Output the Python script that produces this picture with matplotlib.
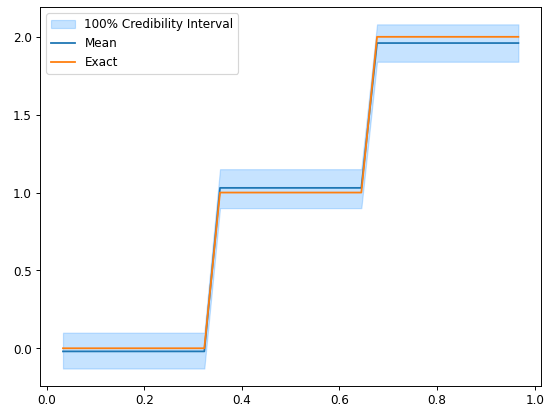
import numpy as np
import matplotlib.pyplot as plt

# 30 sample points spread evenly across the domain
x = np.linspace(1/30, 29/30, 30)

exact = [0.0]*10 + [1.0]*10 + [2.0]*10
mean = [-0.02]*10 + [1.03]*10 + [1.96]*10
lower = [-0.13]*10 + [0.90]*10 + [1.84]*10
upper = [0.10]*10 + [1.15]*10 + [2.08]*10

fig, ax = plt.subplots(figsize=(6.4, 4.8), dpi=86.1)
fig.subplots_adjust(left=0.073, right=0.982, top=0.982, bottom=0.066)
ax.fill_between(x, lower, upper, color="dodgerblue", alpha=0.25, label="100% Credibility Interval")
ax.plot(x, mean, color="tab:blue", label="Mean")
ax.plot(x, exact, color="tab:orange", label="Exact")
ax.legend(loc="upper left")
fig.savefig("out.png")
